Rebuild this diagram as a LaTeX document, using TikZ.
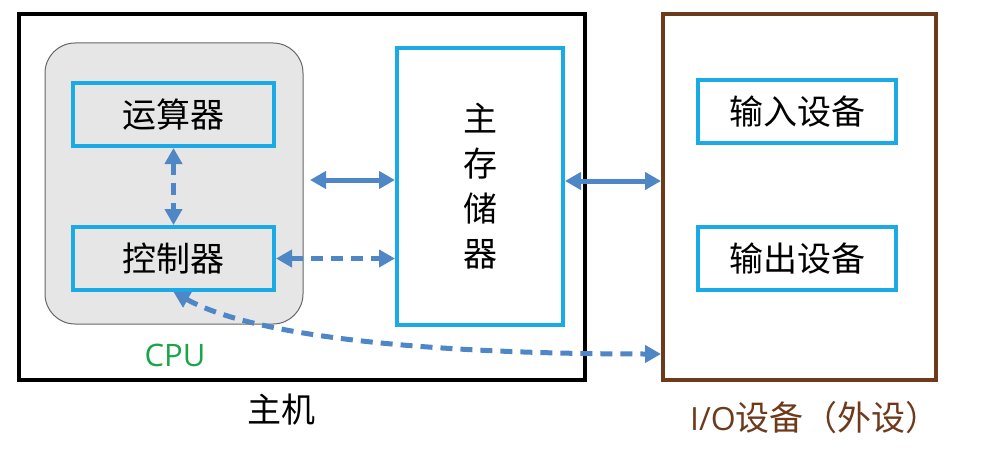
\documentclass[tikz,border=0pt]{standalone}
\usepackage{fontspec}
\newfontfamily\cjk{Noto Sans CJK SC}
\newfontfamily\latin{Open Sans}
\usetikzlibrary{arrows.meta}
\definecolor{boxblue}{HTML}{1AAAE6}
\definecolor{arrblue}{HTML}{4E86C6}
\definecolor{iobrown}{HTML}{6E3A1C}
\definecolor{cpugreen}{HTML}{1AA54A}
\definecolor{cpufill}{HTML}{E6E6E6}
\tikzset{
  unitbox/.style={draw=boxblue, line width=4pt, inner sep=0pt, font=\cjk\fontsize{34}{34}\selectfont},
  arr/.style={draw=arrblue, line width=5pt, {Triangle[length=16pt,width=17pt]}-{Triangle[length=16pt,width=17pt]}},
  dasharr/.style={arr, dash pattern=on 12pt off 8pt},
  bigbox/.style={line width=4pt, inner sep=0pt},
  lbl/.style={font=\cjk\fontsize{34}{34}\selectfont, inner sep=0pt}
}
\begin{document}
\begin{tikzpicture}[x=1pt,y=-1pt]
\useasboundingbox (0,0) rectangle (989,460);
% host
\node[bigbox, draw=black, minimum width=566pt, minimum height=366pt] (host) at (302,197) {};
% CPU
\node[draw=black!60, fill=cpufill, line width=1pt, rounded corners=30pt, minimum width=258pt, minimum height=281pt, inner sep=0pt] (cpu) at (174,183.5) {};
\node[unitbox, minimum width=201pt, minimum height=63pt] (alu) at (173.5,114.5) {运算器};
\node[unitbox, minimum width=201pt, minimum height=63pt] (ctrl) at (173.5,258.5) {控制器};
\node[unitbox, fill=white, minimum width=166pt, minimum height=277pt, align=center, font=\cjk\fontsize{34}{45}\selectfont] (mem) at (480,186.5) {主\\存\\储\\器};
% IO
\node[bigbox, draw=iobrown, minimum width=273pt, minimum height=366pt] (io) at (799.5,197) {};
\node[unitbox, minimum width=198pt, minimum height=63pt] (in) at (797,111.5) {输入设备};
\node[unitbox, minimum width=198pt, minimum height=63pt] (out) at (797,258.5) {输出设备};
% labels
\node[font=\latin\fontsize{31}{31}\selectfont, text=cpugreen, inner sep=0pt] (cpulbl) at (175,355) {CPU};
\node[lbl] (hostlbl) at (281,410) {主机};
\node[inner sep=0pt, text=iobrown] (iolbl) at (815,418) {{\latin\fontsize{32}{32}\selectfont I/O}{\cjk\fontsize{34}{34}\selectfont 设备（外设）}};
% arrows
\coordinate (a1) at (310,180);
\coordinate (y2) at (0,181);
\coordinate (y3) at (0,354);
\draw[dasharr] (alu.south) -- (ctrl.north);
\draw[arr] (a1) -- (a1 -| mem.west);
\draw[dasharr] (ctrl.east) -- (ctrl.east -| mem.west);
\draw[arr] (mem.east |- y2) -- (io.west |- y2);
\draw[dasharr] (ctrl.south) .. controls (260,340) and (450,354) .. (io.west |- y3);
\end{tikzpicture}
\end{document}
